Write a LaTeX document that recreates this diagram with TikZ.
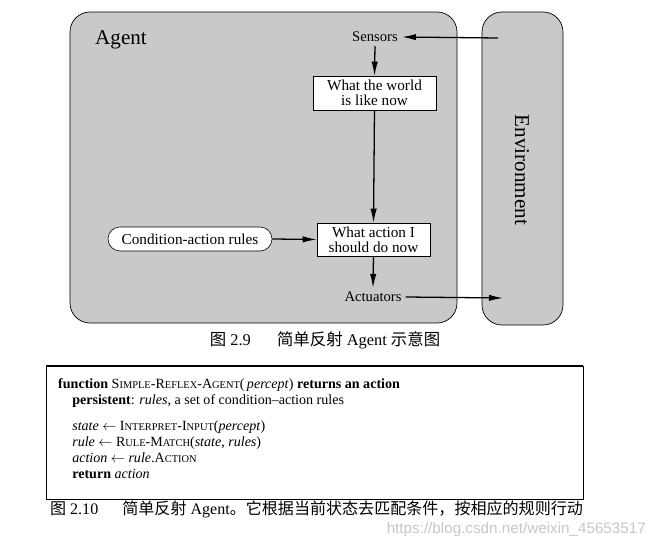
\documentclass[tikz,border=0pt]{standalone}
\usepackage{fontspec}
\setmainfont{Liberation Serif}
\newfontfamily\cjk{Noto Sans CJK SC}
\newfontfamily\wmfont{Liberation Sans}
\usetikzlibrary{arrows.meta,positioning}
\definecolor{panelgray}{RGB}{201,201,201}
% fake small caps: first letter full size, rest raised to capitals at a smaller size
\newcommand{\fsc}[2]{#1{\fontsize{8.9}{10}\selectfont\uppercase{#2}}}

\begin{document}
\begin{tikzpicture}[x=0.03cm,y=-0.03cm,
  panel/.style={draw,fill=panelgray,rounded corners=0.6cm,line width=0.6pt},
  statebox/.style={draw,fill=white,line width=0.5pt,align=center,inner sep=2pt,font=\fontsize{13}{12.5}\selectfont},
  rulebox/.style={draw,fill=white,line width=0.5pt,rounded corners=0.36cm,font=\fontsize{13}{14}\selectfont},
  lbl/.style={font=\fontsize{12.5}{14}\selectfont},
  arr/.style={-{Latex[length=4.2mm,width=1.9mm]},line width=1.1pt}]
\useasboundingbox (0,0) rectangle (659,540);
% agent and environment panels
\node[panel,minimum width=11.61cm,minimum height=9.33cm] (agent) at (263.5,167.5) {};
\node[panel,minimum width=2.43cm,minimum height=9.39cm] (env) at (522.5,168.5) {};
\node[font=\fontsize{18}{20}\selectfont] (agentlbl) at (121,40) {Agent};
\node[rotate=-90,font=\fontsize{18}{20}\selectfont] (envlbl) at (522,170) {Environment};
% inside the agent
\node[lbl] (sens) at (375,37) {Sensors};
\node[statebox,minimum width=3.69cm,minimum height=1.02cm] (world) at (374.5,93) {What the world\\is like now};
\node[statebox,minimum width=3.39cm,minimum height=0.99cm] (action) at (373.5,239.5) {What action I\\should do now};
\node[rulebox,minimum width=4.92cm,minimum height=0.72cm] (rules) at (190,239) {Condition-action rules};
\node[lbl] (act) at (373,297) {Actuators};
\coordinate (envin) at (498,38);
\coordinate (envout) at (503,298);
\draw[arr] (envin) -- (sens.east);
\draw[arr] (sens.south) -- (world.north);
\draw[arr] (world.south) -- (action.north);
\draw[arr] (rules.east) -- (action.west);
\draw[arr] (action.south) -- (act.north);
\draw[arr] (act.east) -- (envout);
\node[font=\fontsize{14}{16}\selectfont] (cap1) at (325,340)
 {{\cjk 图} 2.9\hspace{1.6em}{\cjk 简单反射} Agent {\cjk 示意图}};
% the program
\node[draw,line width=0.5pt,minimum width=16.11cm,minimum height=3.99cm] (algo) at (314.5,432.5) {};
\draw[line width=1.2pt] (algo.north west) -- (algo.north east);
\node[anchor=north west,inner sep=0,align=left,font=\fontsize{12}{13.66}\selectfont] (code) at (58,378)
 {\textbf{function} \fsc{S}{imple}-\fsc{R}{eflex}-\fsc{A}{gent}(\,\textit{percept}) \textbf{returns an action}\\
  \hspace*{12pt}\textbf{persistent}: \textit{rules}, a set of condition--action rules\\[8.5pt]
  \hspace*{12pt}\textit{state} $\leftarrow$ \fsc{I}{nterpret}-\fsc{I}{nput}(\textit{percept})\\
  \hspace*{12pt}\textit{rule} $\leftarrow$ \fsc{R}{ule}-\fsc{M}{atch}(\textit{state}, \textit{rules})\\
  \hspace*{12pt}\textit{action} $\leftarrow$ \textit{rule}.\fsc{A}{ction}\\
  \hspace*{12pt}\textbf{return} \textit{action}};
\node[anchor=west,font=\fontsize{13.7}{16}\selectfont] (cap2) at (46,509)
 {{\cjk 图} 2.10\hspace{1.5em}{\cjk 简单反射} Agent{\cjk 。它根据当前状态去匹配条件，按相应的规则行动}};
\node[anchor=east,text=black!22,font=\wmfont\fontsize{13}{15}\selectfont] (wm) at (650,530) {https://blog.csdn.net/weixin\_45653517};
\end{tikzpicture}
\end{document}
